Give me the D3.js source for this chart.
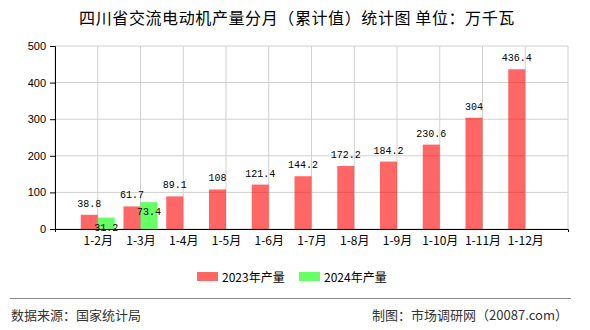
<!DOCTYPE html>
<html>
<head>
<meta charset="utf-8">
<script src="https://cdn.jsdelivr.net/npm/d3@7"></script>
<style>
  body { margin: 0; background: #fff; }
  svg { display: block; }
</style>
</head>
<body>
<svg id="chart" width="590" height="330"></svg>
<script>
const categories = ["1-2月", "1-3月", "1-4月", "1-5月", "1-6月", "1-7月", "1-8月", "1-9月", "1-10月", "1-11月", "1-12月"];
const output2023 = [38.8, 61.7, 89.1, 108, 121.4, 144.2, 172.2, 184.2, 230.6, 304, 436.4];
const output2024 = [31.2, 73.4];
const yTicks = [0, 100, 200, 300, 400, 500];

const margin = { top: 46, right: 22, bottom: 101, left: 55 };
const width = 590 - margin.left - margin.right;
const height = 330 - margin.top - margin.bottom;

const svg = d3.select("#chart");
const g = svg.append("g").attr("transform", `translate(${margin.left},${margin.top})`);

// title
svg.append("text")
  .attr("x", 297).attr("y", 24)
  .attr("text-anchor", "middle")
  .style("font-family", "'Noto Sans CJK SC'")
  .style("font-size", "16px")
  .style("letter-spacing", "0.6px")
  .text("四川省交流电动机产量分月（累计值）统计图 单位：万千瓦");

const x = d3.scalePoint().domain(categories).range([0, width]).padding(1);
const y = d3.scaleLinear().domain([0, 500]).range([height, 0]);
const barW = 17;

// grid
g.append("g").selectAll("line").data(yTicks).enter().append("line")
  .attr("x1", 0).attr("x2", width)
  .attr("y1", d => y(d)).attr("y2", d => y(d))
  .attr("stroke", "#d0d0d0");
const vx = [0].concat(categories.map(c => x(c))).concat([width]);
g.append("g").selectAll("line").data(vx).enter().append("line")
  .attr("x1", d => d).attr("x2", d => d)
  .attr("y1", 0).attr("y2", height)
  .attr("stroke", "#d0d0d0");

// bars
g.selectAll(".b23").data(output2023).enter().append("rect")
  .attr("x", (d, i) => x(categories[i]) - barW)
  .attr("y", d => y(d))
  .attr("width", barW)
  .attr("height", d => height - y(d))
  .attr("fill", "#ff0000").attr("fill-opacity", 0.6);
g.selectAll(".b24").data(output2024).enter().append("rect")
  .attr("x", (d, i) => x(categories[i]))
  .attr("y", d => y(d))
  .attr("width", barW)
  .attr("height", d => height - y(d))
  .attr("fill", "#00ff00").attr("fill-opacity", 0.6);

// value labels
const lblFont = "'Liberation Mono', monospace";
g.selectAll(".l23").data(output2023).enter().append("text")
  .attr("x", (d, i) => x(categories[i]) - barW / 2)
  .attr("y", d => y(d) - 8)
  .attr("text-anchor", "middle")
  .style("font-family", lblFont).style("font-size", "10px")
  .text(d => d);
g.selectAll(".l24").data(output2024).enter().append("text")
  .attr("x", (d, i) => x(categories[i]) + barW / 2)
  .attr("y", d => y(d) + 13)
  .attr("text-anchor", "middle")
  .style("font-family", lblFont).style("font-size", "10px")
  .text(d => d);

// y axis
const yAxis = g.append("g")
  .call(d3.axisLeft(y).tickValues(yTicks).tickSize(5).tickPadding(4));
yAxis.select(".domain").attr("stroke", "#000");
yAxis.selectAll("text").style("font-family", "'Liberation Sans'").style("font-size", "11px").attr("fill", "#000");

// x axis
const xAxis = g.append("g").attr("transform", `translate(0,${height})`)
  .call(d3.axisBottom(x).tickSize(0).tickSizeOuter(3).tickPadding(7));
xAxis.select(".domain").attr("stroke", "#000");
xAxis.selectAll("text").style("font-family", "'Noto Sans CJK SC'").style("font-size", "12px").attr("fill", "#000");

// legend
const legend = [
  { name: "2023年产量", color: "#ff0000" },
  { name: "2024年产量", color: "#00ff00" }
];
const lg = svg.append("g").attr("transform", "translate(197,272)");
legend.forEach((d, i) => {
  const item = lg.append("g").attr("transform", `translate(${i * 102},0)`);
  item.append("rect").attr("width", 21).attr("height", 9)
    .attr("fill", d.color).attr("fill-opacity", 0.6);
  item.append("text").attr("x", 25).attr("y", 9.5)
    .style("font-family", "'Noto Sans CJK SC'").style("font-size", "12px")
    .text(d.name);
});

// footer
svg.append("line").attr("x1", 10).attr("x2", 571).attr("y1", 298.5).attr("y2", 298.5)
  .attr("stroke", "#888").attr("stroke-width", 1.2);
svg.append("text").attr("x", 11).attr("y", 320)
  .style("font-family", "'Noto Sans CJK SC'").style("font-size", "13px").attr("fill", "#333")
  .text("数据来源：国家统计局");
svg.append("text").attr("x", 568).attr("y", 320).attr("text-anchor", "end")
  .style("font-family", "'Noto Sans CJK SC'").style("font-size", "13px").attr("fill", "#333")
  .text("制图：市场调研网（20087.com）");
</script>
</body>
</html>
